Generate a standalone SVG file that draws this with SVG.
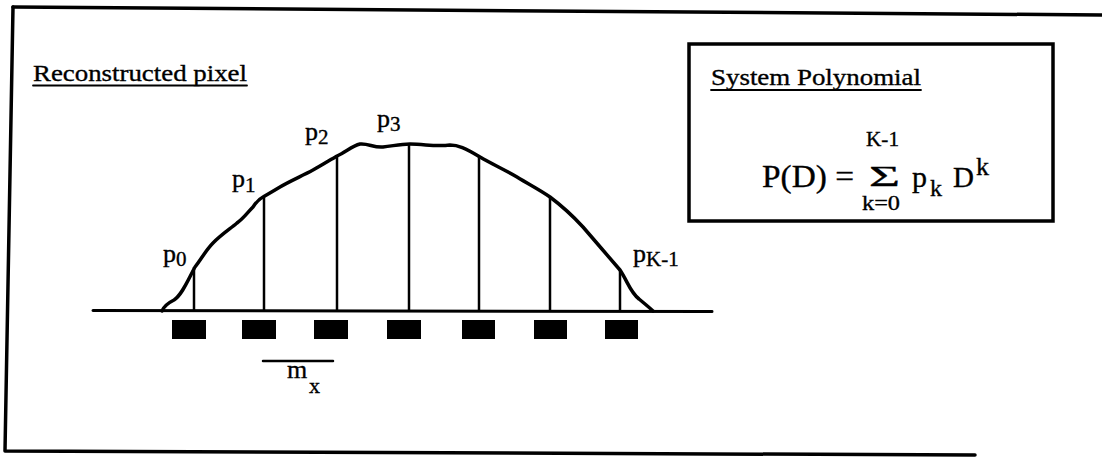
<svg xmlns="http://www.w3.org/2000/svg" width="1102" height="457" viewBox="0 0 1102 457">
<style>
.t{font-family:"Liberation Serif","Times New Roman","DejaVu Serif",serif;fill:#000;stroke:#000;stroke-width:0.35}
.ln{stroke:#000;fill:none;stroke-linecap:round;stroke-linejoin:round}
</style>
<rect width="1102" height="457" fill="#fff"/>
<g id="frame">
<path class="ln" d="M13,7 L1102,15" stroke-width="3.5"/>
<path class="ln" d="M13,7 L5,451 L975,455" stroke-width="3.5"/>
</g>
<g id="title">
<text class="t" x="33" y="81" font-size="24" textLength="214" lengthAdjust="spacingAndGlyphs">Reconstructed pixel</text>
<line class="ln" x1="33" y1="85.5" x2="247" y2="85.5" stroke-width="1.8"/>
</g>
<g id="polybox">
<rect x="689" y="44" width="364" height="177" fill="none" stroke="#000" stroke-width="3.5"/>
<text class="t" x="711" y="85" font-size="24" textLength="210" lengthAdjust="spacingAndGlyphs">System Polynomial</text>
<line class="ln" x1="711" y1="90" x2="921" y2="90" stroke-width="1.8"/>
<text class="t" x="762" y="187" font-size="32" textLength="92" lengthAdjust="spacingAndGlyphs">P(D) =</text>
<text class="t" x="866" y="146" font-size="22" textLength="33" lengthAdjust="spacingAndGlyphs">K-1</text>
<text class="t" x="869" y="186" font-size="30" textLength="31" lengthAdjust="spacingAndGlyphs">Σ</text>
<text class="t" x="862" y="210" font-size="21" textLength="38" lengthAdjust="spacingAndGlyphs">k=0</text>
<text class="t" x="912" y="187" font-size="30">p</text>
<text class="t" x="930" y="196" font-size="24">k</text>
<text class="t" x="953" y="187" font-size="29">D</text>
<text class="t" x="976" y="175" font-size="26">k</text>
</g>
<g id="pixel">
<path class="ln" stroke-width="3.5" d="M162,311 C164,306 168,303 174,300 C182,295 188,280 195,267 C202,258 206,250 213,243 C222,234 230,229 237,223 C244,218 247,213 253,207 C257,201 259,199 263,197 C270,193 275,190 280,187 C290,181 302,176 313,170 C322,165 330,160 337,156 C346,152 352,146 360,144 C368,143 374,148 383,147 C393,146 400,144 410,144 C425,144 435,147 450,145 C458,145 465,148 480,157 C492,164 505,170 517,177 C530,185 540,190 550,197 C562,206 572,215 583,227 C595,241 608,256 620,270 C628,282 630,292 639,299 C645,304 650,308 653,311"/>
<line class="ln" x1="93" y1="310.5" x2="712" y2="311.5" stroke-width="3"/>
</g>
<g id="samples" stroke="#000" stroke-width="2.5">
<line x1="194" y1="267" x2="194" y2="311"/>
<line x1="264" y1="197" x2="264" y2="311"/>
<line x1="337" y1="156" x2="337" y2="311"/>
<line x1="409" y1="144" x2="409" y2="311"/>
<line x1="479" y1="157" x2="479" y2="311"/>
<line x1="550" y1="197" x2="550" y2="311"/>
<line x1="620" y1="270" x2="620" y2="311"/>
</g>
<g id="detectors" fill="#000">
<rect x="172" y="320" width="34" height="19"/>
<rect x="242" y="320" width="34" height="19"/>
<rect x="314" y="320" width="34" height="19"/>
<rect x="387" y="320" width="34" height="19"/>
<rect x="462" y="320" width="33" height="19"/>
<rect x="534" y="320" width="33" height="19"/>
<rect x="605" y="320" width="33" height="19"/>
</g>
<g id="labels">
<text class="t" x="163" y="262" font-size="26">p<tspan font-size="21" dy="4">0</tspan></text>
<text class="t" x="232" y="187" font-size="26">p<tspan font-size="21" dy="5">1</tspan></text>
<text class="t" x="305" y="140" font-size="26">p<tspan font-size="21" dy="4">2</tspan></text>
<text class="t" x="377" y="127" font-size="26">p<tspan font-size="21" dy="4">3</tspan></text>
<text class="t" x="633" y="262" font-size="26">p<tspan font-size="21" dy="4">K-1</tspan></text>
</g>
<g id="pitch">
<line class="ln" x1="263" y1="361" x2="333" y2="361" stroke-width="2.5"/>
<text class="t" x="287" y="378" font-size="26">m</text>
<text class="t" x="309" y="393" font-size="22">x</text>
</g>
</svg>
